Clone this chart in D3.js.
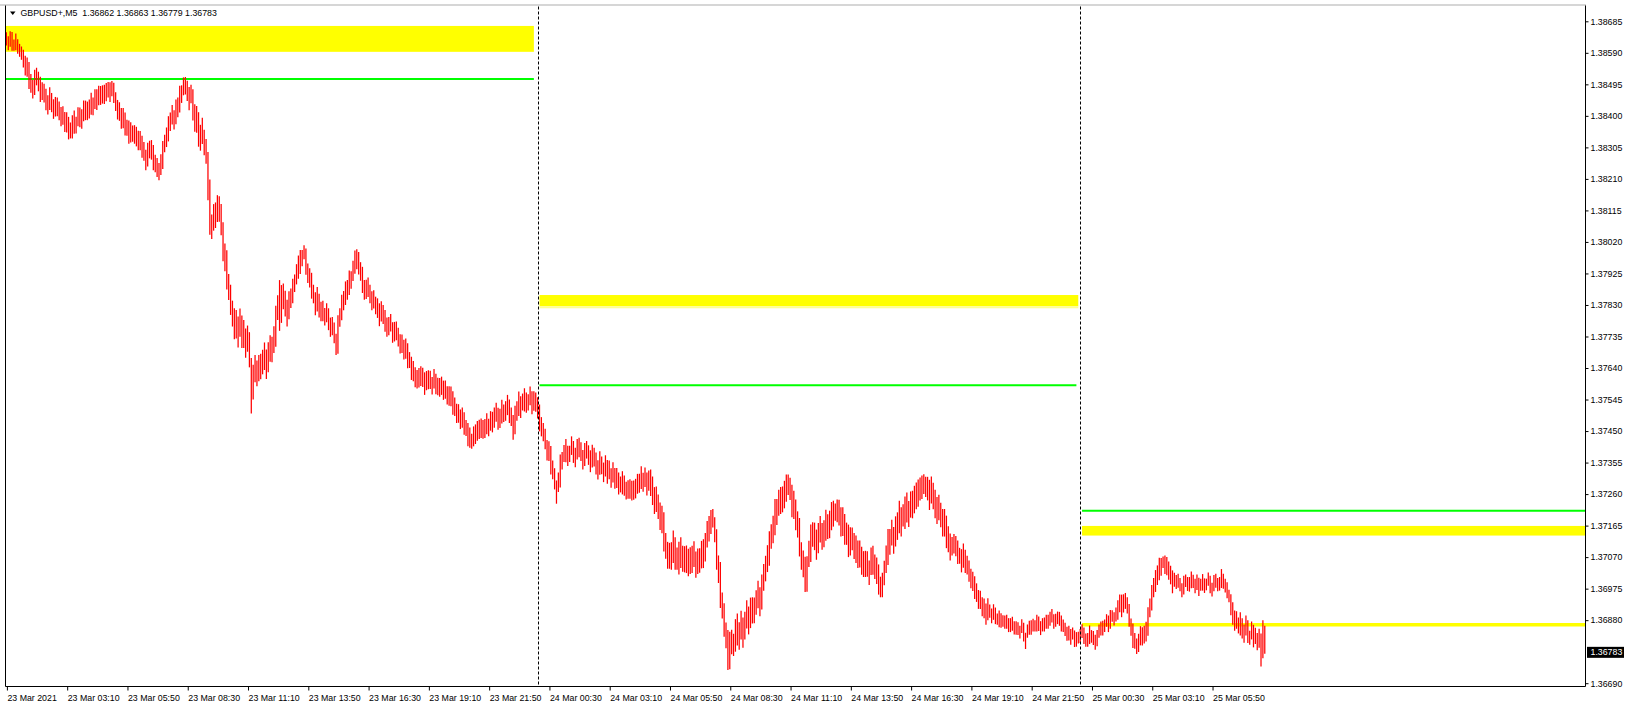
<!DOCTYPE html>
<html><head><meta charset="utf-8">
<script src="https://cdn.jsdelivr.net/npm/d3@7"></script>
<style>
html,body{margin:0;padding:0;background:#fff;}
svg{display:block;}
text{font-family:"Liberation Sans",Arial,sans-serif;font-size:8.8px;fill:#000;}
</style>
</head><body>
<svg id="chart" width="1628" height="704"></svg>
<script>
// ---------------- DATA ----------------
const symbolTitle = "GBPUSD+,M5";
const lastOHLC = [1.36862, 1.36863, 1.36779, 1.36783];
const priceBase = 1.36;          // bar values below are points above this base (1 point = 0.00001)
const firstOpen = 2638;

const closes = [
2640,2608,2653,2612,2614,2608,2617,2594,2599,2560,
2545,2562,2495,2503,2463,2519,2517,2518,2456,2481,
2482,2440,2418,2469,2439,2408,2443,2419,2420,2385,
2412,2365,2397,2352,2358,2346,2397,2369,2412,2386,
2384,2432,2401,2420,2403,2450,2427,2465,2432,2471,
2475,2460,2450,2482,2483,2459,2500,2459,2448,2405,
2424,2375,2410,2364,2366,2330,2362,2344,2358,2328,
2319,2340,2288,2298,2247,2299,2297,2312,2250,2263,
2258,2222,2240,2307,2318,2323,2385,2374,2410,2375,
2432,2410,2477,2462,2494,2478,2487,2439,2480,2406,
2385,2411,2326,2341,2330,2330,2291,2208,2062,2075,
2113,2094,2099,2134,2079,1986,1995,1905,1891,1822,
1820,1747,1795,1734,1788,1719,1759,1702,1748,1670,
1545,1631,1616,1631,1615,1655,1656,1696,1627,1690,
1718,1689,1704,1804,1824,1776,1870,1845,1841,1787,
1854,1835,1895,1892,1931,1923,1977,1969,2000,1941,
1919,1927,1863,1868,1810,1864,1817,1825,1795,1801,
1820,1777,1748,1777,1743,1683,1785,1784,1838,1830,
1884,1860,1920,1902,1941,1938,1990,1944,1945,1886,
1869,1892,1868,1868,1825,1854,1827,1835,1780,1821,
1815,1772,1748,1777,1778,1733,1765,1744,1738,1700,
1724,1680,1715,1662,1666,1618,1642,1604,1620,1601,
1609,1627,1573,1608,1587,1612,1585,1622,1575,1591,
1595,1582,1558,1585,1558,1543,1570,1519,1528,1490,
1514,1470,1507,1462,1461,1418,1442,1404,1450,1431,
1444,1470,1443,1460,1440,1484,1459,1495,1460,1501,
1520,1477,1473,1527,1505,1498,1545,1494,1498,1440,
1509,1495,1555,1512,1541,1523,1547,1534,1570,1521,
1534,1552,
1530,1472,1448,1457,1423,1378,1405,1339,1338,1290,
1284,1280,1365,1357,1386,1370,1387,1379,1420,1374,
1364,1412,1385,1393,1345,1394,1392,1392,1340,1389,
1385,1342,1318,1372,1348,1313,1363,1311,1338,1295,
1339,1290,1325,1282,1291,1273,1297,1266,1288,1266,
1264,1287,1261,1298,1275,1324,1292,1325,1270,1311,
1313,1259,1219,1259,1224,1176,1205,1115,1111,1057,
1090,1052,1130,1064,1068,1037,1104,1057,1083,1050,
1045,1081,1041,1086,1023,1068,1058,1098,1057,1115,
1158,1149,1159,1190,1154,1056,1055,945,931,852,
850,732,825,809,808,804,874,822,888,825,
855,921,856,916,885,920,931,978,912,990,
1028,1029,1044,1124,1134,1136,1225,1195,1241,1222,
1260,1237,1315,1289,1278,1209,1244,1182,1188,1100,
1065,1071,966,1041,1055,1140,1136,1153,1082,1145,
1173,1124,1119,1189,1164,1151,1225,1190,1226,1197,
1220,1152,1200,1139,1143,1089,1134,1122,1123,1080,
1070,1101,1036,1056,1025,1060,1021,1078,1037,1050,
1048,989,949,999,1024,1046,1135,1105,1151,1102,
1170,1142,1220,1164,1198,1174,1239,1192,1248,1215,
1235,1276,1241,1291,1260,1310,1286,1303,1232,1285,
1273,1219,1189,1234,1199,1156,1195,1125,1131,1082,
1114,1095,1120,1072,1076,1038,1092,1044,1060,1016,
999,1012,958,968,925,949,917,930,880,926,
915,881,918,884,884,869,887,876,884,868,
860,876,858,861,844,860,843,872,826,828,
855,846,870,862,864,856,877,851,876,860,
870,886,873,898,862,885,886,894,856,868,
860,828,853,822,842,809,830,826,
827,858,818,824,808,850,830,836,801,836,
855,844,868,860,882,854,897,891,894,890,
904,957,903,953,925,929,877,870,810,821,
810,807,818,842,838,833,905,909,963,965,
1014,1000,1060,1037,1066,1033,1057,1024,1030,981,
997,1006,988,991,957,1000,998,999,976,1013,
1005,971,1008,969,989,979,992,986,1014,975,
967,1006,988,991,977,1020,993,994,956,958,
934,880,895,877,866,848,867,834,880,831,
822,866,808,841,797,840,770,862,783
];

const highs = [
2652,2640,2655,2634,2630,2648,2631,2613,2609,2588,
2581,2576,2540,2526,2509,2539,2545,2533,2504,2501,
2497,2472,2462,2486,2464,2450,2457,2455,2443,2427,
2429,2410,2411,2382,2380,2402,2416,2396,2426,2425,
2420,2446,2446,2443,2449,2470,2455,2480,2480,2491,
2490,2492,2494,2499,2502,2501,2505,2495,2471,2447,
2441,2420,2424,2394,2388,2386,2381,2371,2372,2367,
2355,2354,2333,2321,2293,2319,2325,2327,2298,2283,
2273,2254,2284,2324,2343,2365,2399,2410,2433,2417,
2449,2455,2491,2492,2516,2517,2506,2466,2494,2445,
2435,2430,2389,2373,2394,2358,2330,2229,2129,2103,
2134,2139,2161,2158,2114,2045,2015,1955,1923,1881,
1843,1810,1815,1776,1819,1798,1785,1739,1768,1725,
1595,1650,1679,1663,1679,1683,1695,1717,1694,1718,
1739,1734,1766,1828,1859,1905,1890,1895,1873,1846,
1871,1880,1909,1922,1953,1979,1996,1996,2010,1980,
1955,1941,1908,1891,1856,1884,1845,1840,1843,1821,
1835,1809,1792,1794,1768,1725,1799,1820,1861,1872,
1901,1905,1934,1932,1963,1994,1998,1971,1959,1925,
1905,1906,1913,1891,1871,1874,1855,1850,1828,1841,
1830,1804,1792,1794,1803,1775,1779,1780,1761,1742,
1741,1725,1729,1692,1688,1674,1661,1631,1634,1640,
1645,1641,1618,1631,1633,1632,1613,1637,1623,1611,
1610,1614,1602,1602,1583,1585,1584,1555,1551,1532,
1531,1515,1521,1492,1483,1474,1461,1431,1464,1470,
1480,1484,1488,1483,1486,1504,1487,1510,1508,1521,
1535,1509,1517,1544,1530,1540,1559,1530,1521,1482,
1526,1540,1569,1542,1563,1579,1566,1561,1584,1560,
1570,1566,
1545,1504,1492,1474,1448,1420,1419,1375,1361,1332,
1301,1325,1379,1387,1408,1426,1406,1406,1434,1413,
1400,1426,1430,1416,1391,1414,1420,1407,1388,1409,
1400,1374,1362,1389,1373,1355,1377,1347,1361,1337,
1356,1335,1339,1312,1313,1329,1316,1293,1302,1305,
1300,1301,1306,1321,1321,1344,1320,1340,1318,1331,
1334,1304,1281,1283,1259,1235,1225,1165,1143,1116,
1113,1115,1150,1106,1099,1116,1130,1094,1103,1105,
1095,1100,1104,1118,1087,1096,1097,1119,1124,1143,
1179,1194,1212,1215,1189,1115,1075,995,963,911,
873,795,845,851,839,883,900,859,908,880,
905,940,919,948,949,948,970,999,979,1018,
1049,1074,1106,1148,1169,1195,1245,1245,1273,1281,
1283,1300,1319,1319,1309,1288,1270,1219,1208,1155,
1115,1090,1029,1073,1119,1168,1175,1174,1149,1173,
1194,1169,1181,1213,1199,1210,1236,1240,1232,1244,
1243,1215,1220,1181,1174,1168,1160,1159,1143,1135,
1120,1120,1099,1088,1089,1088,1060,1099,1104,1078,
1069,1034,1011,1023,1059,1105,1155,1155,1183,1161,
1193,1205,1240,1206,1229,1253,1265,1229,1268,1270,
1285,1295,1304,1310,1316,1320,1312,1312,1299,1313,
1294,1264,1251,1258,1234,1215,1215,1175,1163,1141,
1131,1140,1134,1102,1098,1094,1111,1071,1074,1055,
1035,1026,1003,991,971,969,945,945,928,946,
927,913,928,906,900,909,901,895,894,896,
886,886,890,877,877,874,863,883,860,842,
867,878,880,884,880,896,891,870,886,888,
896,896,905,914,895,899,906,905,890,882,
872,860,863,844,858,849,844,845,
853,868,850,840,841,864,850,847,835,850,
867,876,878,882,898,894,911,910,904,918,
940,955,948,958,962,949,905,885,858,841,
825,839,862,859,863,875,919,945,986,1007,
1031,1045,1068,1067,1072,1075,1070,1051,1044,1020,
1023,1016,1020,1007,990,1014,1018,1010,1010,1027,
1017,1003,1018,991,1005,1019,1006,1005,1024,1003,
993,1016,1020,1007,1010,1034,1013,1005,990,972,
951,925,909,907,888,904,886,861,894,870,
848,876,840,857,830,854,800,880,863
];

const lows = [
2612,2598,2619,2596,2596,2598,2587,2578,2569,2546,
2522,2518,2481,2470,2452,2484,2492,2474,2442,2448,
2440,2417,2404,2431,2411,2391,2398,2399,2387,2369,
2373,2351,2350,2329,2332,2332,2355,2347,2370,2366,
2361,2388,2387,2387,2392,2415,2402,2421,2418,2438,
2433,2437,2436,2444,2455,2442,2472,2439,2415,2389,
2385,2361,2363,2341,2340,2316,2320,2322,2316,2308,
2296,2296,2274,2265,2236,2264,2272,2268,2236,2230,
2216,2206,2226,2269,2290,2306,2340,2354,2377,2359,
2393,2396,2430,2439,2468,2464,2445,2417,2438,2386,
2352,2349,2307,2295,2315,2281,2256,2146,2042,2029,
2054,2062,2080,2081,2040,1962,1932,1877,1845,1800,
1765,1727,1729,1702,1752,1700,1700,1671,1689,1642,
1503,1569,1597,1585,1600,1606,1621,1634,1607,1644,
1659,1657,1685,1751,1785,1752,1807,1817,1795,1765,
1815,1821,1848,1869,1905,1909,1935,1947,1968,1921,
1896,1883,1849,1835,1799,1829,1792,1781,1781,1768,
1778,1754,1734,1739,1715,1679,1740,1764,1805,1814,
1845,1846,1873,1879,1915,1924,1955,1922,1903,1866,
1846,1848,1854,1835,1814,1819,1802,1791,1766,1788,
1773,1749,1734,1739,1750,1716,1720,1724,1705,1684,
1685,1666,1668,1639,1640,1604,1600,1582,1578,1581,
1586,1583,1559,1575,1576,1577,1560,1578,1561,1558,
1553,1559,1544,1547,1530,1526,1525,1499,1495,1474,
1475,1456,1460,1439,1435,1404,1400,1397,1408,1411,
1421,1426,1429,1427,1429,1449,1434,1451,1446,1468,
1478,1454,1459,1489,1477,1481,1500,1474,1465,1424,
1470,1481,1508,1489,1515,1509,1505,1512,1528,1501,
1511,1508,
1488,1449,1434,1419,1395,1361,1360,1319,1305,1274,
1231,1266,1318,1334,1360,1356,1345,1357,1378,1354,
1341,1368,1371,1360,1334,1359,1367,1348,1326,1356,
1343,1319,1304,1334,1320,1296,1318,1291,1305,1279,
1300,1276,1278,1259,1265,1259,1255,1244,1246,1246,
1241,1243,1247,1265,1264,1289,1267,1281,1256,1278,
1254,1227,1200,1206,1185,1152,1142,1087,1065,1035,
1035,1032,1064,1032,1032,1018,1045,1026,1024,1022,
1012,1019,1022,1040,1008,1019,1023,1036,1037,1069,
1099,1117,1140,1176,1115,1032,992,917,885,830,
795,730,759,777,772,785,815,791,829,797,
822,859,837,870,870,871,896,916,892,944,
969,997,1025,1071,1095,1112,1162,1167,1195,1200,
1205,1217,1249,1257,1242,1190,1185,1151,1129,1072,
1032,1009,965,995,1040,1091,1101,1091,1062,1099,
1114,1092,1100,1136,1125,1127,1162,1162,1180,1175,
1165,1132,1134,1107,1107,1070,1075,1091,1064,1052,
1037,1039,1017,1010,1010,1011,986,1016,1017,1004,
989,957,949,949,985,1022,1072,1077,1105,1080,
1115,1122,1154,1132,1162,1155,1180,1161,1189,1187,
1202,1214,1222,1245,1245,1276,1251,1241,1212,1239,
1214,1187,1170,1181,1160,1132,1132,1097,1085,1060,
1075,1081,1073,1049,1050,1024,1050,1022,1018,996,
976,968,944,935,914,914,892,886,866,893,
887,871,884,868,866,859,857,860,854,854,
844,844,848,837,836,835,825,841,816,793,
827,836,836,846,846,846,847,835,846,846,
854,854,863,874,854,860,868,863,846,844,
832,818,819,806,824,799,800,810,
811,826,808,800,800,825,812,805,791,812,
827,834,834,844,864,844,867,875,864,876,
881,913,889,920,914,900,860,833,796,794,
778,784,804,804,810,816,860,889,930,949,
975,986,1013,1014,1040,1019,1015,1002,988,961,
981,974,978,967,949,975,980,968,966,989,
977,961,974,953,971,969,962,970,984,961,
951,974,978,967,969,995,975,963,946,934,
895,866,848,854,840,834,825,812,838,811,
806,834,798,817,789,815,740,765,779
];

const timeLabels = ["23 Mar 2021","23 Mar 03:10","23 Mar 05:50","23 Mar 08:30","23 Mar 11:10","23 Mar 13:50","23 Mar 16:30","23 Mar 19:10","23 Mar 21:50","24 Mar 00:30","24 Mar 03:10","24 Mar 05:50","24 Mar 08:30","24 Mar 11:10","24 Mar 13:50","24 Mar 16:30","24 Mar 19:10","24 Mar 21:50","25 Mar 00:30","25 Mar 03:10","25 Mar 05:50"];
const timeLabelBars = [0,32,64,96,128,160,192,224,256,288,320,352,384,416,448,480,512,544,576,608,640];
const priceTicks = [1.38685,1.38590,1.38495,1.38400,1.38305,1.38210,1.38115,1.38020,1.37925,1.37830,1.37735,1.37640,1.37545,1.37450,1.37355,1.37260,1.37165,1.37070,1.36975,1.36880,1.36690];
const daySeparatorBars = [282, 570];

// yellow rectangles (bar index range, price range)
const zoneFromBar = [-4, 283, 571];
const zoneToBar   = [280, 569, 900];
const zoneHigh    = [1.38671, 1.37860, 1.37164];
const zoneLow     = [1.38593, 1.37826, 1.37135];
const zoneFade    = [0, 1.37820, 0];   // paler lower strip of the middle zone
// green horizontal levels
const greenFromBar = [-4, 283, 571];
const greenToBar   = [280, 568, 900];
const greenLevel   = [1.38511, 1.37588, 1.37210];
// thin yellow level
const yellowLineFromBar = [571];
const yellowLineToBar   = [900];
const yellowLineLevel   = [1.36866];

// ---------------- CHART ----------------
const plot = {left: 5.5, right: 1585.5, top: 5.5, bottom: 686.5};
const svg = d3.select("#chart");

const nBars = closes.length;
const x = d3.scaleLinear().domain([0, nBars - 1]).range([6.4, 6.4 + (nBars - 1) * 1.8838]);
const y = d3.scaleLinear().domain([1.36690, 1.38685]).range([683.2, 21.3]);
const P = v => priceBase + v / 1e5;

svg.append("defs").append("clipPath").attr("id", "clip")
  .append("rect").attr("x", plot.left + 0.5).attr("y", plot.top + 0.5)
  .attr("width", plot.right - plot.left - 1).attr("height", plot.bottom - plot.top - 1);

const g = svg.append("g").attr("clip-path", "url(#clip)");

// yellow zones
zoneHigh.forEach((hi, k) => {
  g.append("rect")
    .attr("x", x(zoneFromBar[k])).attr("width", x(zoneToBar[k]) - x(zoneFromBar[k]))
    .attr("y", y(hi)).attr("height", y(zoneLow[k]) - y(hi))
    .attr("fill", "#ffff00");
  if (zoneFade[k]) {
    g.append("rect")
      .attr("x", x(zoneFromBar[k])).attr("width", x(zoneToBar[k]) - x(zoneFromBar[k]))
      .attr("y", y(zoneLow[k])).attr("height", y(zoneFade[k]) - y(zoneLow[k]))
      .attr("fill", "#ffff90");
  }
});
// green lines
greenLevel.forEach((lv, k) => {
  g.append("line")
    .attr("x1", x(greenFromBar[k])).attr("x2", x(greenToBar[k]))
    .attr("y1", y(lv)).attr("y2", y(lv))
    .attr("stroke", "#00ff00").attr("stroke-width", 2);
});
// thin yellow line
yellowLineLevel.forEach((lv, k) => {
  g.append("line")
    .attr("x1", x(yellowLineFromBar[k])).attr("x2", x(yellowLineToBar[k]))
    .attr("y1", y(lv)).attr("y2", y(lv))
    .attr("stroke", "#ffff00").attr("stroke-width", 3.5);
});

// day separators
daySeparatorBars.forEach(b => {
  svg.append("line")
    .attr("x1", Math.round(x(b)) + 0.5).attr("x2", Math.round(x(b)) + 0.5)
    .attr("y1", plot.top + 1).attr("y2", plot.bottom)
    .attr("stroke", "#000").attr("stroke-width", 1).attr("stroke-dasharray", "3,2");
});

// candles (thin bars at their exact, fractional x: high-low span incl. open & close)
const bars = closes.map((c, i) => {
  const o = i === 0 ? firstOpen : closes[i - 1];
  return {i, o: P(o), c: P(c), h: P(Math.max(highs[i], o, c)), l: P(Math.min(lows[i], o, c))};
});
const cg = g.append("g");
cg.selectAll("line.bar").data(bars).join("line").attr("class", "bar")
  .attr("x1", d => x(d.i)).attr("x2", d => x(d.i))
  .attr("y1", d => y(d.h)).attr("y2", d => y(d.l))
  .attr("stroke", "#ff0000").attr("stroke-width", 1.25);

// frame
svg.append("line").attr("x1", 0).attr("x2", plot.right + 0.5).attr("y1", 5).attr("y2", 5)
  .attr("stroke", "#c8c8c8").attr("stroke-width", 1.5);
svg.append("path")
  .attr("d", `M${plot.left},${plot.top}V${plot.bottom}H${plot.right}V${plot.top}`)
  .attr("fill", "none").attr("stroke", "#000").attr("stroke-width", 1);

// price axis
const yAxis = d3.axisRight(y).tickValues(priceTicks).tickSize(3).tickPadding(2)
  .tickFormat(d3.format(".5f"));
const ya = svg.append("g").attr("transform", `translate(${plot.right},0)`).call(yAxis);
ya.select(".domain").remove();
ya.selectAll("text").style("font-family", '"Liberation Sans",Arial,sans-serif').style("font-size", "8.8px");
ya.selectAll("line").attr("stroke", "#000");

// time axis
const xAxis = d3.axisBottom(x).tickValues(timeLabelBars).tickSize(4)
  .tickFormat((d, i) => timeLabels[i]);
const xa = svg.append("g").attr("transform", `translate(0,${plot.bottom})`).call(xAxis);
xa.select(".domain").remove();
xa.selectAll(".tick line").attr("stroke", "#000").attr("transform", "translate(0.5,0)");
xa.selectAll("text").attr("text-anchor", "start").attr("x", 0.5).attr("y", 8.5)
  .style("font-family", '"Liberation Sans",Arial,sans-serif').style("font-size", "8.8px");

// last price label
const lastClose = lastOHLC[3];
svg.append("rect").attr("x", plot.right + 1.5).attr("y", y(lastClose) - 5.5)
  .attr("width", 37).attr("height", 11).attr("fill", "#000");
svg.append("text").attr("x", plot.right + 5).attr("y", y(lastClose)).attr("dy", "0.34em")
  .style("fill", "#fff").text(d3.format(".5f")(lastClose));

// header
svg.append("path").attr("d", "M10,11.5H15.5L12.75,15Z").attr("fill", "#000");
svg.append("text").attr("x", 20.5).attr("y", 16.3).style("white-space", "pre")
  .text(symbolTitle + "  " + lastOHLC.map(d3.format(".5f")).join(" "));
</script>
</body></html>
